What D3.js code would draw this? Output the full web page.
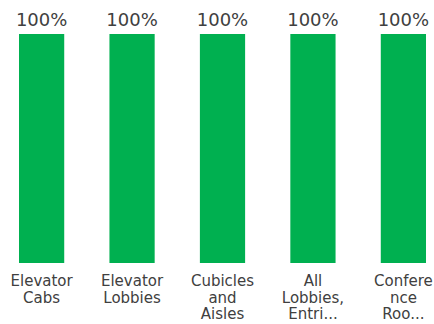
<!DOCTYPE html>
<html>
<head>
<meta charset="utf-8">
<script src="https://cdn.jsdelivr.net/npm/d3@7"></script>
<style>
  body { margin: 0; background: #fff; }
  text { font-family: "DejaVu Sans", sans-serif; fill: #404040; }
</style>
</head>
<body>
<div class="container"></div>
<script>
const categories = ["Elevator Cabs", "Elevator Lobbies", "Cubicles and Aisles", "All Lobbies, Entries", "Conference Rooms"]
const values = [100, 100, 100, 100, 100]
const tickLines = [
    ["Elevator", "Cabs"],
    ["Elevator", "Lobbies"],
    ["Cubicles", "and", "Aisles"],
    ["All", "Lobbies,", "Entri..."],
    ["Confere", "nce", "Roo..."]
]

const width = 434
const height = 324
const margin = { top: 34, bottom: 61, left: 19, right: 8 }

let svg = d3.select(".container")
    .append("svg")
    .attr("width", width)
    .attr("height", height)
    .attr("viewBox", [0, 0, width, height])

let x = d3.scaleBand()
    .domain(categories)
    .range([margin.left, width - margin.right])
    .paddingInner(0.5)
    .paddingOuter(0)

let y = d3.scaleLinear()
    .domain([0, 100])
    .range([height - margin.bottom, margin.top])

svg.append("g")
    .selectAll("rect")
    .data(categories)
    .enter()
    .append("rect")
    .attr("x", d => x(d))
    .attr("width", x.bandwidth())
    .attr("y", (d, i) => y(values[i]))
    .attr("height", (d, i) => y(0) - y(values[i]))
    .attr("fill", "#00b050")

// value labels
svg.append("g")
    .selectAll("text")
    .data(categories)
    .enter()
    .append("text")
    .attr("x", d => x(d) + x.bandwidth() / 2)
    .attr("y", (d, i) => y(values[i]) - 8)
    .attr("text-anchor", "middle")
    .style("font-size", "18px")
    .text((d, i) => values[i] + "%")

// x axis, no line or ticks, just wrapped labels
let xAxis = svg.append("g")
    .attr("transform", `translate(0, ${height - margin.bottom})`)
    .call(d3.axisBottom(x).tickSize(0).tickFormat(""))

xAxis.select(".domain").remove()

xAxis.selectAll(".tick").each(function(d, i) {
    let t = d3.select(this).append("text")
        .attr("text-anchor", "middle")
        .attr("y", 23)
        .style("font-size", "15px")
    tickLines[i].forEach((line, j) => {
        t.append("tspan")
            .attr("x", 0)
            .attr("dy", j === 0 ? 0 : 16.5)
            .text(line)
    })
})
</script>
</body>
</html>
